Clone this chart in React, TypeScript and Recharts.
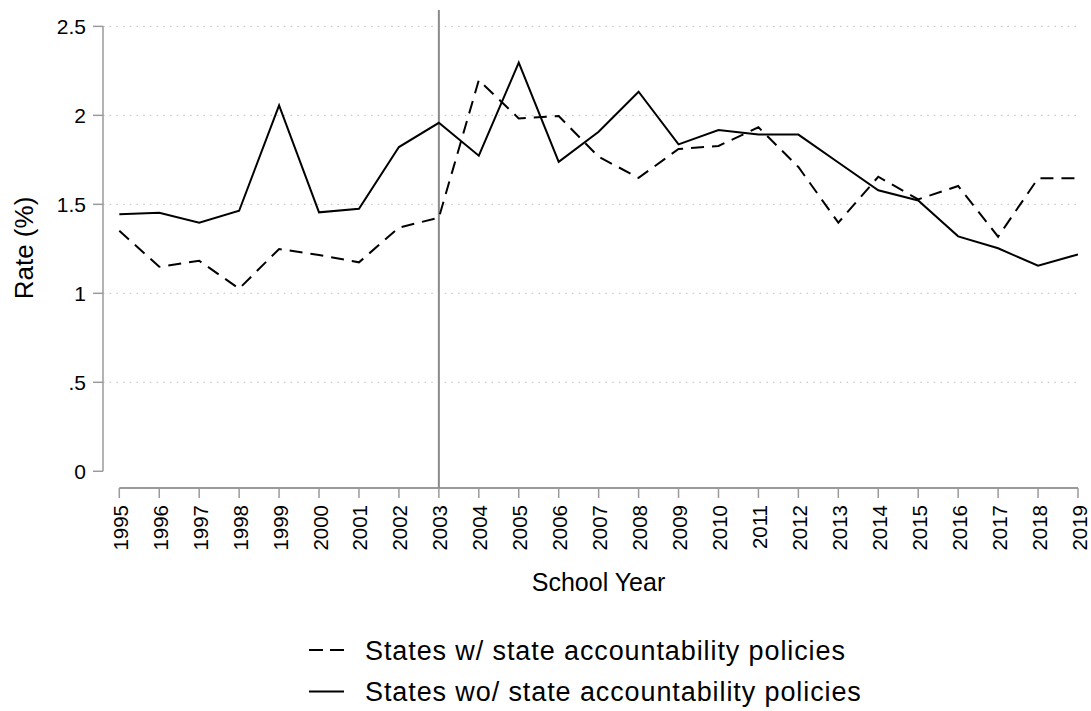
import { CartesianGrid, Line, LineChart, ReferenceLine, XAxis, YAxis } from "recharts";

const FONT = '"Liberation Sans", Arial, Helvetica, sans-serif';

const years = [
  1995, 1996, 1997, 1998, 1999, 2000, 2001, 2002, 2003, 2004, 2005, 2006, 2007,
  2008, 2009, 2010, 2011, 2012, 2013, 2014, 2015, 2016, 2017, 2018, 2019,
];
// dropout rate (%), states with accountability policies
const withPolicy = [
  1.352, 1.149, 1.183, 1.026, 1.249, 1.215, 1.174, 1.369, 1.425, 2.198, 1.983,
  1.996, 1.767, 1.649, 1.811, 1.828, 1.933, 1.71, 1.397, 1.655, 1.528, 1.603,
  1.318, 1.646, 1.646,
];
// dropout rate (%), states without accountability policies
const withoutPolicy = [
  1.444, 1.453, 1.397, 1.464, 2.056, 1.455, 1.475, 1.822, 1.958, 1.773, 2.296,
  1.739, 1.908, 2.133, 1.837, 1.917, 1.892, 1.892, 1.735, 1.579, 1.522, 1.32,
  1.253, 1.155, 1.219,
];
const yTicks = [0, 0.5, 1, 1.5, 2, 2.5];
const gridValues = [0.5, 1, 1.5, 2, 2.5];
const policyYear = 2003;
const seriesNames = [
  "States w/ state accountability policies",
  "States wo/ state accountability policies",
];

const data = years.map((year, i) => ({
  year,
  withPolicy: withPolicy[i],
  withoutPolicy: withoutPolicy[i],
}));

// axes sit slightly apart from the data region, Stata style
const X_MIN = 1994.592;
const Y_MIN = -0.094;
const Y_MAX = 2.592;
const AXIS = "#9a9a9a";
const YEAR_LABEL_TOP = 505;

function YearTick({ x, payload }: any) {
  return (
    <text
      transform={`translate(${x + 8.5},${YEAR_LABEL_TOP}) rotate(-90)`}
      textAnchor="end"
      fontSize={20.5}
      fontFamily={FONT}
      fill="#000"
    >
      {payload.value}
    </text>
  );
}

const fmtRate = (v: number) => (v === 0.5 ? ".5" : String(v));

export default function App() {
  return (
    <div
      style={{
        position: "absolute",
        left: 0,
        top: 0,
        width: 1091,
        height: 711,
        background: "#fff",
        fontFamily: FONT,
      }}
    >
      <LineChart
        width={1091}
        height={711}
        data={data}
        margin={{ top: 10, right: 13, bottom: 163, left: 43 }}
      >
        <CartesianGrid
          vertical={false}
          horizontalValues={gridValues}
          stroke="#bdbdbd"
          strokeDasharray="1.5 5.2"
        />
        <XAxis
          dataKey="year"
          type="number"
          domain={[X_MIN, 2019]}
          allowDataOverflow
          ticks={years}
          interval={0}
          height={60}
          tickSize={10}
          tickMargin={7}
          axisLine={false}
          tickLine={{ stroke: AXIS, strokeWidth: 1.5 }}
          tick={<YearTick />}
        />
        <YAxis
          type="number"
          domain={[Y_MIN, Y_MAX]}
          allowDataOverflow
          ticks={yTicks}
          interval={0}
          width={60}
          tickSize={10}
          tickMargin={7}
          axisLine={false}
          tickLine={{ stroke: AXIS, strokeWidth: 1.5 }}
          tickFormatter={fmtRate}
          tick={{ fontSize: 21, fill: "#000", fontFamily: FONT }}
        />
        <ReferenceLine
          segment={[
            { x: X_MIN, y: 0 },
            { x: X_MIN, y: 2.5 },
          ]}
          stroke={AXIS}
          strokeWidth={1.5}
          ifOverflow="visible"
        />
        <ReferenceLine
          segment={[
            { x: 1995, y: Y_MIN },
            { x: 2019, y: Y_MIN },
          ]}
          stroke={AXIS}
          strokeWidth={2}
          ifOverflow="visible"
        />
        <ReferenceLine x={policyYear} stroke="#8a8a8a" strokeWidth={2} />
        <Line
          type="linear"
          dataKey="withPolicy"
          stroke="#000"
          strokeWidth={2}
          strokeDasharray="13 8"
          dot={false}
          isAnimationActive={false}
        />
        <Line
          type="linear"
          dataKey="withoutPolicy"
          stroke="#000"
          strokeWidth={2}
          dot={false}
          isAnimationActive={false}
        />
      </LineChart>
      <svg
        width={1091}
        height={711}
        style={{ position: "absolute", left: 0, top: 0, pointerEvents: "none" }}
        fontFamily={FONT}
      >
        <text
          transform="translate(33,248) rotate(-90)"
          textAnchor="middle"
          fontSize={26}
          fill="#000"
        >
          Rate (%)
        </text>
        <text x={598.5} y={591} textAnchor="middle" fontSize={25} fill="#000">
          School Year
        </text>
        <line x1={309} x2={344} y1={650} y2={650} stroke="#000" strokeWidth={2} strokeDasharray="14 7" />
        <text x={365} y={660} fontSize={27} letterSpacing={0.9} fill="#000">
          {seriesNames[0]}
        </text>
        <line x1={309} x2={344} y1={691.5} y2={691.5} stroke="#000" strokeWidth={2} />
        <text x={365} y={701} fontSize={27} letterSpacing={0.9} fill="#000">
          {seriesNames[1]}
        </text>
      </svg>
    </div>
  );
}
